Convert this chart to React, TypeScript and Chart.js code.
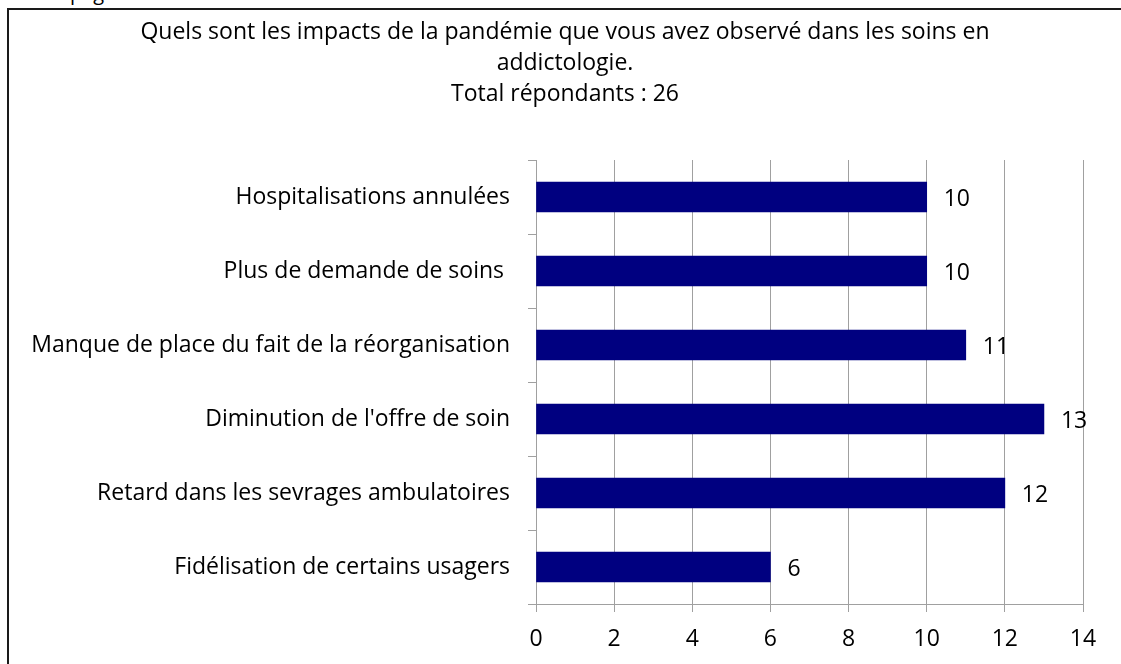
import React, { useEffect, useRef } from "react";
import { Chart, registerables } from "chart.js";
Chart.register(...registerables);

const categories = [
  "Hospitalisations annulées",
  "Plus de demande de soins ",
  "Manque de place du fait de la réorganisation",
  "Diminution de l'offre de soin",
  "Retard dans les sevrages ambulatoires",
  "Fidélisation de certains usagers",
];
const values = [10, 10, 11, 13, 12, 6];
const titleLines = [
  "Quels sont les impacts de la pandémie que vous avez observé dans les soins en",
  "addictologie.",
  "Total répondants : 26",
];
const xMin = 0;
const xMax = 14;
const xStep = 2;

const FONT = "'Open Sans', sans-serif";
const FS = 23;
const GRID = "#a0a0a0";

export default function App() {
  const ref = useRef<HTMLCanvasElement | null>(null);
  useEffect(() => {
    if (!ref.current) return;
    const titlePlugin = {
      id: "titleDraw",
      afterDraw(chart: any) {
        const ctx = chart.ctx;
        ctx.save();
        ctx.fillStyle = "#000";
        ctx.font = `${FS}px ${FONT}`;
        ctx.textAlign = "center";
        ctx.textBaseline = "middle";
        const ys = [32, 63, 94];
        titleLines.forEach((t, i) => ctx.fillText(t, 565, ys[i]));
        ctx.restore();
      },
    };
    const labelPlugin = {
      id: "barLabels",
      afterDatasetsDraw(chart: any) {
        const ctx = chart.ctx;
        const meta = chart.getDatasetMeta(0);
        ctx.save();
        ctx.fillStyle = "#000";
        ctx.font = `${FS}px ${FONT}`;
        ctx.textAlign = "left";
        ctx.textBaseline = "middle";
        meta.data.forEach((el: any, i: number) => {
          ctx.fillText(String(values[i]), el.x + 17, el.y + 2);
        });
        ctx.restore();
      },
    };
    const chart = new Chart(ref.current, {
      type: "bar",
      data: {
        labels: categories,
        datasets: [
          {
            data: values,
            backgroundColor: "#000080",
            borderColor: "#000080",
            borderWidth: 0,
            barThickness: 30,
          },
        ],
      },
      options: {
        indexAxis: "y",
        animation: false,
        responsive: false,
        maintainAspectRatio: false,
        layout: { padding: { top: 160, right: 38, left: 0, bottom: 0 } },
        plugins: {
          legend: { display: false },
          title: { display: false },
          tooltip: { enabled: false },
        },
        scales: {
          x: {
            min: xMin,
            max: xMax,
            ticks: {
              stepSize: xStep,
              color: "#000",
              font: { family: FONT, size: FS },
              padding: 14,
            },
            grid: {
              color: GRID,
              tickLength: 8,
              drawTicks: true,
            },
            border: { color: GRID },
            afterFit(scale: any) {
              scale.height = 60;
            },
          },
          y: {
            ticks: {
              color: "#000",
              font: { family: FONT, size: FS },
              padding: 18,
            },
            grid: {
              offset: true,
              drawOnChartArea: false,
              drawTicks: true,
              tickLength: 8,
              color: GRID,
            },
            border: { color: GRID },
            afterFit(scale: any) {
              scale.width = 536;
            },
          },
        },
      },
      plugins: [titlePlugin, labelPlugin],
    });
    return () => chart.destroy();
  }, []);

  return (
    <div
      style={{
        position: "fixed",
        left: 0,
        top: 0,
        width: 1121,
        height: 664,
        overflow: "hidden",
        background: "#fff",
      }}
    >
      <div
        style={{
          position: "absolute",
          left: 70,
          top: -17,
          fontFamily: FONT,
          fontSize: 20,
          lineHeight: "20px",
          color: "#000",
        }}
      >
        page
      </div>
      <div
        style={{
          position: "absolute",
          left: 7,
          top: 8,
          width: 1140,
          height: 700,
          border: "2px solid #1a1a1a",
          boxSizing: "border-box",
        }}
      />
      <canvas
        ref={ref}
        width={1121}
        height={664}
        style={{ position: "absolute", left: 0, top: 0, width: 1121, height: 664 }}
      />
    </div>
  );
}
